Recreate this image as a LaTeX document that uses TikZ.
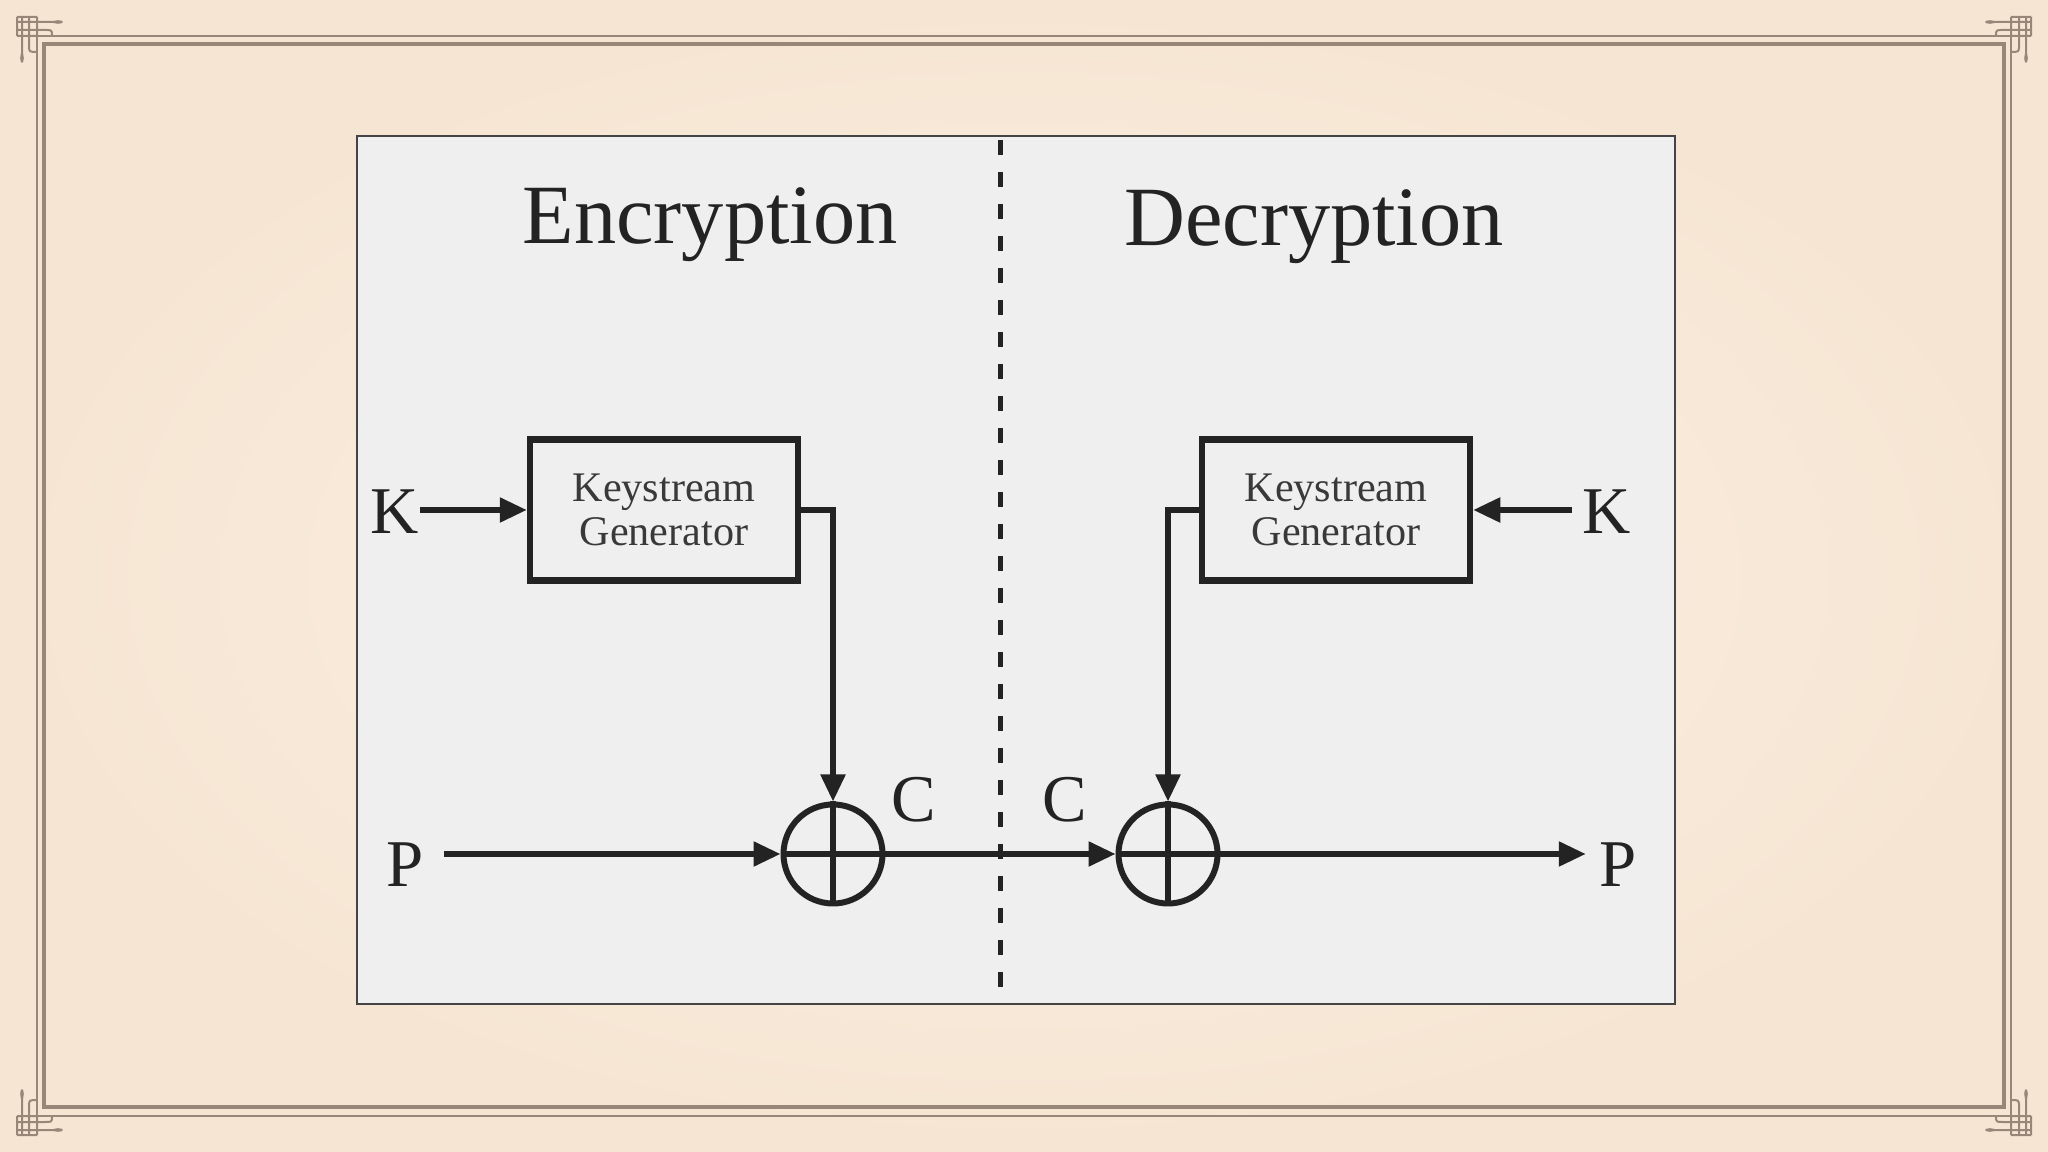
\documentclass[tikz,border=0pt]{standalone}
\usepackage{fontspec}
\setmainfont{Liberation Serif}
\usetikzlibrary{arrows.meta}
\definecolor{paperedge}{RGB}{246,229,210}
\definecolor{paperlight}{RGB}{251,241,231}
\definecolor{trim}{RGB}{150,135,120}
\definecolor{panel}{RGB}{240,239,240}
\definecolor{ink}{RGB}{35,35,35}
\newcommand{\cornerknot}{%
  \draw[trim, line width=0.2mm] (17,17) -- (17,36) (22,17) -- (22,54) (17,17) -- (37,17) (17,22) -- (54,22)
    (29,17) -- (29,45) .. controls (29,52) .. (37,52) (37,17) -- (37,36)
    (17,30) -- (45,30) .. controls (52,30) .. (52,36) (17,36) -- (37,36);
  \fill[trim] (22,58) ellipse [x radius=1.8, y radius=5];
  \fill[trim] (58,22) ellipse [x radius=5, y radius=1.8];
}
\begin{document}
\begin{tikzpicture}[x=0.1mm, y=-0.1mm,
    wire/.style={ink, line width=0.55mm},
    arrow/.style={wire, -{Triangle[length=2.7mm, width=2.4mm]}},
    keybox/.style={draw=ink, line width=0.65mm, minimum width=26.8mm, minimum height=14.1mm,
      align=center, inner sep=0pt, text=ink!90, font=\fontsize{12}{12.5}\selectfont},
    xor/.style={circle, draw=ink, line width=0.6mm, minimum size=9.9mm, inner sep=0pt},
    letter/.style={inner sep=0pt, text=ink, font=\fontsize{19}{19}\selectfont},
    heading/.style={anchor=base, inner sep=0pt, text=ink, font=\fontsize{24}{24}\selectfont}]
    \useasboundingbox (0,0) rectangle (2048,1152);
    \shade[inner color=paperlight, outer color=paperedge] (0,0) rectangle (2048,1152);
    \draw[trim, line width=0.2mm] (37,36) rectangle (2011,1116);
    \draw[trim, line width=0.4mm] (44,44) rectangle (2004,1107);
    \cornerknot
    \begin{scope}[shift={(2048,0)}, xscale=-1]\cornerknot\end{scope}
    \begin{scope}[shift={(0,1152)}, yscale=-1]\cornerknot\end{scope}
    \begin{scope}[shift={(2048,1152)}, scale=-1]\cornerknot\end{scope}

    \draw[fill=panel, draw=ink!85, line width=0.2mm] (357,136) rectangle (1675,1004);
    \draw[ink, line width=0.5mm, dash pattern=on 1.5mm off 1.7mm] (1000,140) -- (1000,1003);

    \node[heading] (encT) at (710,244) {Encryption};
    \node[heading] (decT) at (1314,246) {Decryption};

    \node[keybox] (genE) at (664,510) {Keystream\\Generator};
    \node[keybox] (genD) at (1336,510) {Keystream\\Generator};
    \node[xor] (xorE) at (833,854) {};
    \node[xor] (xorD) at (1168,854) {};
    \draw[wire] (xorE.north) -- (xorE.south) (xorE.west) -- (xorE.east);
    \draw[wire] (xorD.north) -- (xorD.south) (xorD.west) -- (xorD.east);

    \node[letter] (kE) at (395,512) {K};
    \node[letter] (kD) at (1607,512) {K};
    \node[letter] (pE) at (405,865) {P};
    \node[letter] (pD) at (1618,865) {P};
    \node[letter] (cE) at (914,800) {C};
    \node[letter] (cD) at (1065,800) {C};

    \draw[arrow] (genE.west -| kE.east) -- (genE.west);
    \draw[arrow] (genE.east) -| (xorE.north);
    \draw[arrow, shorten <=2mm] (xorE.west -| pE.east) -- (xorE.west);
    \draw[arrow] (xorE.east) -- (xorD.west);
    \draw[arrow, shorten <=1mm] (genD.east -| kD.west) -- (genD.east);
    \draw[arrow] (genD.west) -| (xorD.north);
    \draw[arrow, shorten >=1.3mm] (xorD.east) -- (xorD.east -| pD.west);
\end{tikzpicture}
\end{document}
